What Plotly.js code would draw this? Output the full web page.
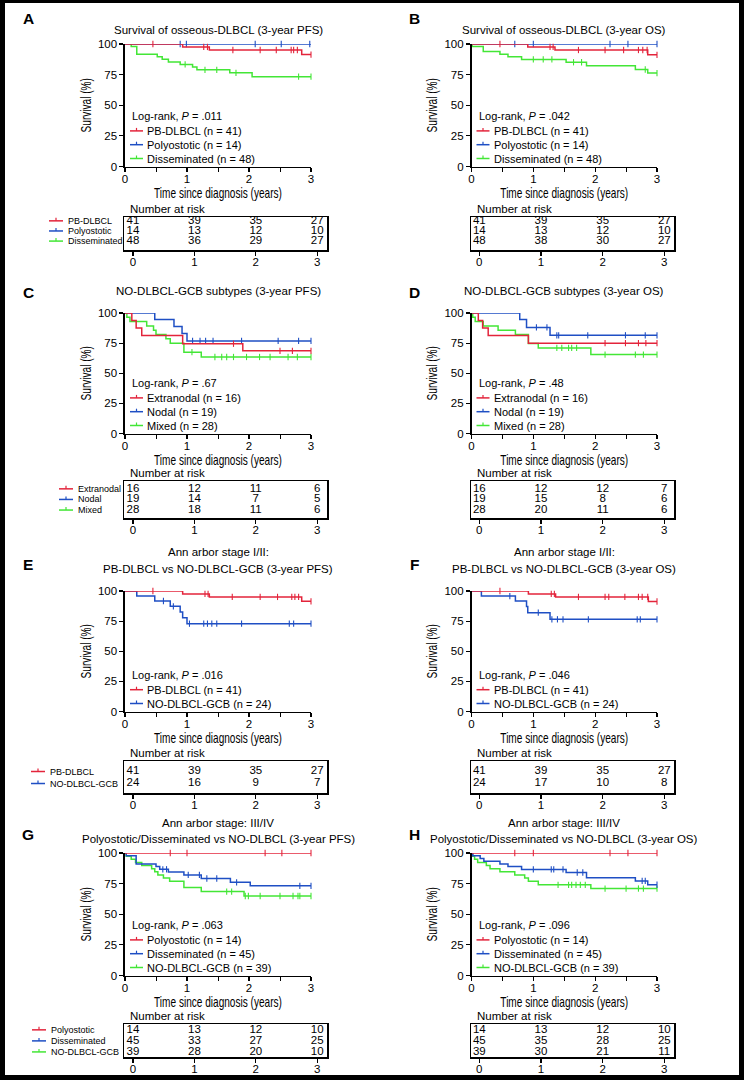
<!DOCTYPE html>
<html><head><meta charset="utf-8">
<script src="https://cdn.plot.ly/plotly-3.0.1.min.js"></script>
<style>html,body{margin:0;padding:0;background:#fff}#g{width:744px;height:1080px}</style>
</head><body><div id="g"></div>
<script>
const RED = '#e3243b', BLUE = '#1f4fc4', GREEN = '#43e636';
const years = [0, 1, 2, 3];

// ---------- Panel A (osseous-DLBCL, PFS) ----------
const aPbT = [0, 0.93, 1.36, 2.85], aPbS = [100, 97.6, 95.1, 91.4];
const aPbC = [0.45, 1.27, 1.33, 1.74, 2.18, 2.44, 2.68, 2.72, 2.78, 3.0];
const aPbRisk = [41, 39, 35, 27];
const aPolyT = [0], aPolyS = [100];
const aPolyC = [0.89, 0.99, 2.10, 2.52, 2.98];
const aPolyRisk = [14, 13, 12, 10];
const aDisT = [0, 0.10, 0.19, 0.52, 0.60, 0.70, 0.89, 1.09, 1.16, 1.69, 2.05];
const aDisS = [100, 97.9, 91.7, 89.6, 87.5, 85.4, 83.3, 81.2, 78.9, 76.5, 73.3];
const aDisC = [0.97, 1.29, 1.48, 1.79, 2.80, 3.0];
const aDisRisk = [48, 36, 29, 27];

// ---------- Panel B (osseous-DLBCL, OS) ----------
const bPbT = [0, 0.91, 1.35, 2.85], bPbS = [100, 97.6, 95.1, 91.2];
const bPbC = [0.46, 1.27, 1.32, 1.73, 2.16, 2.46, 2.70, 2.77, 2.84, 3.0];
const bPbRisk = [41, 39, 35, 27];
const bPolyT = [0], bPolyS = [100];
const bPolyC = [0.70, 1.00, 2.24, 2.53, 3.0];
const bPolyRisk = [14, 13, 12, 10];
const bDisT = [0, 0.01, 0.19, 0.46, 0.59, 0.81, 1.53, 1.86, 2.65, 2.85];
const bDisS = [100, 97.9, 93.8, 91.7, 89.6, 87.4, 85.1, 82.2, 79.2, 76.3];
const bDisC = [1.0, 1.16, 1.30, 1.65, 1.78, 2.81, 3.0];
const bDisRisk = [48, 38, 30, 27];

// ---------- Panel C (NO-DLBCL-GCB subtypes, PFS) ----------
const cExT = [0, 0.11, 0.18, 0.27, 0.93, 1.90], cExS = [100, 93.8, 87.5, 81.3, 74.5, 68.6];
const cExC = [1.75, 2.50, 2.70, 3.0];
const cExRisk = [16, 12, 11, 6];
const cNoT = [0, 0.48, 0.79, 0.92, 1.0], cNoS = [100, 94.7, 88.9, 83.0, 76.8];
const cNoC = [1.09, 1.21, 1.30, 1.42, 1.88, 2.47, 2.80, 3.0];
const cNoRisk = [19, 14, 7, 5];
const cMiT = [0, 0.03, 0.08, 0.35, 0.46, 0.50, 0.66, 0.73, 0.95, 1.23];
const cMiS = [100, 96.4, 92.9, 89.3, 85.7, 82.1, 78.6, 75.0, 67.5, 63.5];
const cMiC = [1.08, 1.45, 1.56, 1.64, 1.75, 1.96, 2.17, 2.34, 2.63, 2.78, 3.0];
const cMiRisk = [28, 18, 11, 6];

// ---------- Panel D (NO-DLBCL-GCB subtypes, OS) ----------
const dExT = [0, 0.11, 0.18, 0.27, 0.92], dExS = [100, 93.8, 87.5, 81.3, 75.0];
const dExC = [2.16, 2.49, 2.70, 2.82, 3.0];
const dExRisk = [16, 12, 12, 7];
const dNoT = [0, 0.78, 0.89, 1.27], dNoS = [100, 94.7, 88.0, 81.5];
const dNoC = [1.05, 1.22, 1.38, 1.41, 1.88, 2.49, 2.81, 3.0];
const dNoRisk = [19, 15, 8, 6];
const dMiT = [0, 0.02, 0.06, 0.19, 0.43, 0.71, 0.92, 1.08, 1.93];
const dMiS = [100, 96.4, 92.9, 89.3, 85.7, 82.1, 74.7, 71.0, 65.5];
const dMiC = [1.38, 1.46, 1.57, 1.62, 1.70, 2.16, 2.65, 2.78, 3.0];
const dMiRisk = [28, 20, 11, 6];

// ---------- Panel E (stage I/II, PFS) ----------
const ePbT = [0, 0.93, 1.36, 2.85], ePbS = [100, 97.6, 95.1, 91.4];
const ePbC = [0.45, 1.29, 1.34, 1.73, 2.18, 2.46, 2.69, 2.74, 2.80, 3.0];
const ePbRisk = [41, 39, 35, 27];
const eNoT = [0, 0.19, 0.48, 0.73, 0.89, 0.93, 1.0];
const eNoS = [100, 95.8, 91.7, 87.3, 82.6, 77.8, 72.9];
const eNoC = [0.62, 0.78, 1.04, 1.27, 1.33, 1.40, 1.48, 1.88, 2.65, 2.72, 3.0];
const eNoRisk = [24, 16, 9, 7];

// ---------- Panel F (stage I/II, OS) ----------
const fPbT = [0, 0.92, 1.36, 2.86], fPbS = [100, 97.6, 95.1, 91.3];
const fPbC = [0.46, 1.29, 1.34, 1.73, 2.16, 2.22, 2.48, 2.70, 2.76, 2.85, 3.0];
const fPbRisk = [41, 39, 35, 27];
const fNoT = [0, 0.16, 0.71, 0.89, 0.91, 1.27];
const fNoS = [100, 95.8, 91.7, 87.1, 82.0, 76.5];
const fNoC = [0.62, 1.08, 1.30, 1.39, 1.48, 1.89, 2.68, 2.73, 3.0];
const fNoRisk = [24, 17, 10, 8];

// ---------- Panel G (stage III/IV, PFS) ----------
const gPolyT = [0], gPolyS = [100];
const gPolyC = [0.73, 1.0, 2.26, 2.53, 3.0];
const gPolyRisk = [14, 13, 12, 10];
const gDisT = [0, 0.02, 0.18, 0.50, 0.56, 0.70, 0.95, 1.23, 1.70, 2.02];
const gDisS = [100, 97.8, 91.1, 88.9, 86.7, 84.4, 82.1, 79.2, 76.1, 73.2];
const gDisC = [0.61, 0.67, 1.02, 1.20, 1.32, 1.48, 1.80, 2.82, 3.0];
const gDisRisk = [45, 33, 27, 25];
const gNoT = [0, 0.02, 0.10, 0.17, 0.27, 0.43, 0.48, 0.53, 0.62, 0.72, 0.95, 1.23, 1.92];
const gNoS = [100, 97.4, 94.9, 92.3, 89.7, 87.2, 84.6, 82.1, 79.5, 76.9, 71.8, 68.5, 64.9];
const gNoC = [1.64, 1.72, 1.94, 1.99, 2.18, 2.50, 2.71, 2.79, 2.82, 3.0];
const gNoRisk = [39, 28, 20, 10];

// ---------- Panel H (stage III/IV, OS) ----------
const hPolyT = [0], hPolyS = [100];
const hPolyC = [0.70, 1.0, 2.24, 2.53, 3.0];
const hPolyRisk = [14, 13, 12, 10];
const hDisT = [0, 0.02, 0.14, 0.20, 0.46, 0.59, 0.81, 1.53, 1.86, 2.65, 2.85];
const hDisS = [100, 97.8, 95.6, 93.3, 91.1, 88.9, 86.6, 84.1, 79.7, 77.2, 74.1];
const hDisC = [1.0, 1.29, 1.33, 1.48, 1.71, 1.80, 2.76, 2.81, 3.0];
const hDisRisk = [45, 35, 28, 25];
const hNoT = [0, 0.02, 0.05, 0.10, 0.24, 0.30, 0.46, 0.70, 0.86, 0.92, 1.08, 1.93];
const hNoS = [100, 97.4, 94.9, 92.3, 89.7, 87.2, 84.6, 82.1, 79.5, 76.9, 74.0, 71.0];
const hNoC = [1.40, 1.57, 1.62, 1.69, 1.76, 1.84, 2.16, 2.50, 2.70, 2.78, 3.0];
const hNoRisk = [39, 30, 21, 11];

const pValues = ['.011', '.042', '.67', '.48', '.016', '.046', '.063', '.096'];

// ---------- fonts / helpers ----------
const FONT = '"Liberation Sans", Arial, Helvetica, sans-serif';
const W = 744, H = 1080;
const X = px => px / W;
const Y = py => 1 - py / H;
function grp(name, color, t, s, c, risk) { return {name, color, t, s, c, risk}; }
function survAt(t, s, c) { let v = s[0]; for (let i = 0; i < t.length; i++) if (t[i] <= c) v = s[i]; return v; }

const panels = [
  {key:'A', col:0, row:0, title:['Survival of osseous-DLBCL (3-year PFS)'], side:66,
   groups:[grp('PB-DLBCL',RED,aPbT,aPbS,aPbC,aPbRisk), grp('Polyostotic',BLUE,aPolyT,aPolyS,aPolyC,aPolyRisk), grp('Disseminated',GREEN,aDisT,aDisS,aDisC,aDisRisk)]},
  {key:'B', col:1, row:0, title:['Survival of osseous-DLBCL (3-year OS)'], side:null,
   groups:[grp('PB-DLBCL',RED,bPbT,bPbS,bPbC,bPbRisk), grp('Polyostotic',BLUE,bPolyT,bPolyS,bPolyC,bPolyRisk), grp('Disseminated',GREEN,bDisT,bDisS,bDisC,bDisRisk)]},
  {key:'C', col:0, row:1, title:['NO-DLBCL-GCB subtypes (3-year PFS)'], side:76,
   groups:[grp('Extranodal',RED,cExT,cExS,cExC,cExRisk), grp('Nodal',BLUE,cNoT,cNoS,cNoC,cNoRisk), grp('Mixed',GREEN,cMiT,cMiS,cMiC,cMiRisk)]},
  {key:'D', col:1, row:1, title:['NO-DLBCL-GCB subtypes (3-year OS)'], side:null,
   groups:[grp('Extranodal',RED,dExT,dExS,dExC,dExRisk), grp('Nodal',BLUE,dNoT,dNoS,dNoC,dNoRisk), grp('Mixed',GREEN,dMiT,dMiS,dMiC,dMiRisk)]},
  {key:'E', col:0, row:2, title:['Ann arbor stage I/II:', 'PB-DLBCL vs NO-DLBCL-GCB (3-year PFS)'], side:48,
   groups:[grp('PB-DLBCL',RED,ePbT,ePbS,ePbC,ePbRisk), grp('NO-DLBCL-GCB',BLUE,eNoT,eNoS,eNoC,eNoRisk)]},
  {key:'F', col:1, row:2, title:['Ann arbor stage I/II:', 'PB-DLBCL vs NO-DLBCL-GCB (3-year OS)'], side:null,
   groups:[grp('PB-DLBCL',RED,fPbT,fPbS,fPbC,fPbRisk), grp('NO-DLBCL-GCB',BLUE,fNoT,fNoS,fNoC,fNoRisk)]},
  {key:'G', col:0, row:3, title:['Ann arbor stage: III/IV', 'Polyostotic/Disseminated vs NO-DLBCL (3-year PFS)'], side:49,
   groups:[grp('Polyostotic',RED,gPolyT,gPolyS,gPolyC,gPolyRisk), grp('Disseminated',BLUE,gDisT,gDisS,gDisC,gDisRisk), grp('NO-DLBCL-GCB',GREEN,gNoT,gNoS,gNoC,gNoRisk)]},
  {key:'H', col:1, row:3, title:['Ann arbor stage: III/IV', 'Polyostotic/Disseminated vs NO-DLBCL (3-year OS)'], side:null,
   groups:[grp('Polyostotic',RED,hPolyT,hPolyS,hPolyC,hPolyRisk), grp('Disseminated',BLUE,hDisT,hDisS,hDisC,hDisRisk), grp('NO-DLBCL-GCB',GREEN,hNoT,hNoS,hNoC,hNoRisk)]}
];

// layout geometry (pixels)
const rowGeom = [
  {plotTop:44, plotBot:166.5, tabTop:217, tabBot:250, tabRange:[2.88,-0.38], titleY:[30], labelY:18},
  {plotTop:313, plotBot:433.5, tabTop:481, tabBot:518, tabRange:[2.75,-0.74], titleY:[291], labelY:292},
  {plotTop:591, plotBot:711.5, tabTop:761, tabBot:793, tabRange:[1.79,-0.875], titleY:[552,569], labelY:564},
  {plotTop:853, plotBot:975.5, tabTop:1024, tabBot:1057, tabRange:[2.46,-0.53], titleY:[823,839], labelY:834}
];
const colGeom = [
  {plotL:125, plotR:311, tabL:124, tabR:327, tabXRange:[-0.147,3.16], labelX:28},
  {plotL:471.5, plotR:657, tabL:471, tabR:674, tabXRange:[-0.135,3.157], labelX:415}
];

const traces = [];
const annotations = [];
const shapes = [];
const layout = {
  width: W, height: H, margin:{l:0,r:0,t:0,b:0,pad:0},
  paper_bgcolor:'#ffffff', plot_bgcolor:'rgba(0,0,0,0)',
  showlegend:false, font:{family:FONT, size:11.5, color:'#000'},
  annotations, shapes
};

function icon(x0, x1, yc, color) {
  shapes.push({type:'line', xref:'paper', yref:'paper', x0:X(x0), x1:X(x1), y0:Y(yc), y1:Y(yc), line:{color, width:1.5}});
  const xm = (x0 + x1) / 2;
  shapes.push({type:'line', xref:'paper', yref:'paper', x0:X(xm), x1:X(xm), y0:Y(yc), y1:Y(yc-3), line:{color, width:1.2}});
}
function txt(text, x, y, opts) {
  annotations.push(Object.assign({text, xref:'paper', yref:'paper', x:X(x), y:Y(y), showarrow:false,
    xanchor:'left', yanchor:'middle', font:{family:FONT, size:11, color:'#000'}}, opts || {}));
}

panels.forEach((p, i) => {
  const rg = rowGeom[p.row], cg = colGeom[p.col];
  const pn = 2 * i + 1, tn = 2 * i + 2;
  const pxId = pn === 1 ? 'x' : 'x' + pn, pyId = pn === 1 ? 'y' : 'y' + pn;
  const txId = 'x' + tn, tyId = 'y' + tn;
  const pxKey = pn === 1 ? 'xaxis' : 'xaxis' + pn, pyKey = pn === 1 ? 'yaxis' : 'yaxis' + pn;

  layout[pxKey] = {
    domain:[X(cg.plotL), X(cg.plotR)], anchor:pyId, range:[0,3], tickmode:'linear', tick0:0, dtick:1,
    ticks:'outside', ticklen:4, tickwidth:1.2, tickcolor:'#000', showline:true, linewidth:1.6, linecolor:'#000',
    showgrid:false, zeroline:false, tickfont:{size:11.5}, fixedrange:true, ticklabelstandoff:-3,
    minor:{tick0:0, dtick:0.5, ticks:'outside', ticklen:4, tickwidth:1, tickcolor:'#000', showgrid:false},
    title:{text:'Time since diagnosis (years)', font:{family:FONT, size:14}, standoff:1}
  };
  layout[pyKey] = {
    domain:[Y(rg.plotBot), Y(rg.plotTop)], anchor:pxId, range:[0,100], tickmode:'array', tickvals:[0,25,50,75,100],
    ticks:'outside', ticklen:4, tickwidth:1.2, tickcolor:'#000', showline:true, linewidth:1.6, linecolor:'#000',
    showgrid:false, zeroline:false, tickfont:{size:11.5}, fixedrange:true,
    title:{text:'Survival (%)', font:{family:FONT, size:14}, standoff:3}
  };
  layout['xaxis' + tn] = {
    domain:[X(cg.tabL), X(cg.tabR)], anchor:tyId, range:cg.tabXRange, tickmode:'array', tickvals:years,
    ticks:'outside', ticklen:4, tickwidth:1.2, tickcolor:'#000', showline:true, mirror:true, linewidth:1.5, linecolor:'#000',
    showgrid:false, zeroline:false, tickfont:{size:11.5}, fixedrange:true, ticklabelstandoff:-3
  };
  layout['yaxis' + tn] = {
    domain:[Y(rg.tabBot), Y(rg.tabTop)], anchor:txId, range:rg.tabRange, showline:true, mirror:true, linewidth:1.5,
    linecolor:'#000', showticklabels:false, ticks:'', showgrid:false, zeroline:false, fixedrange:true
  };

  // curves: draw in reverse so the first group sits on top
  const order = p.groups.map((g, gi) => gi).reverse();
  order.forEach(gi => {
    const g = p.groups[gi];
    traces.push({type:'scatter', mode:'lines', x:g.t.concat([3]), y:g.s.concat([g.s[g.s.length-1]]),
      line:{shape:'hv', color:g.color, width:1.5}, xaxis:pxId, yaxis:pyId, cliponaxis:false, hoverinfo:'skip'});
    traces.push({type:'scatter', mode:'markers', x:g.c, y:g.c.map(c => survAt(g.t, g.s, c)),
      marker:{symbol:'line-ns', size:4.5, color:g.color, line:{color:g.color, width:1.1}},
      xaxis:pxId, yaxis:pyId, cliponaxis:false, hoverinfo:'skip'});
  });
  // number at risk table
  p.groups.forEach((g, gi) => {
    traces.push({type:'scatter', mode:'text', x:years, y:years.map(() => gi), text:g.risk.map(String),
      textposition:'middle center', textfont:{family:FONT, size:11.5, color:'#000'},
      xaxis:txId, yaxis:tyId, cliponaxis:false, hoverinfo:'skip'});
  });

  // panel letter and title
  txt('<b>' + p.key + '</b>', cg.labelX, rg.labelY, {xanchor:'center', font:{family:FONT, size:15.5, color:'#000'}});
  p.title.forEach((t, k) => txt(t, (cg.plotL + cg.plotR) / 2, rg.titleY[k], {xanchor:'center', font:{family:FONT, size:11.5, color:'#000'}}));

  // in-plot legend
  const n = p.groups.length;
  const entryY = j => rg.plotBot - 8 - (n - 1 - j) * 13.8;
  txt('Log-rank, <i>P</i> = ' + pValues[i], cg.plotL + 5, entryY(0) - 14.5, {font:{family:FONT, size:11, color:'#000'}});
  p.groups.forEach((g, j) => {
    icon(cg.plotL + 5, cg.plotL + 18, entryY(j), g.color);
    txt(g.name + ' (n = ' + g.risk[0] + ')', cg.plotL + 20, entryY(j), {font:{family:FONT, size:11, color:'#000'}});
  });

  // number at risk header
  txt('Number at risk', cg.tabL + 4, rg.tabTop - 8, {font:{family:FONT, size:11.5, color:'#000'}});

  // side legend next to table (left column only)
  if (p.side !== null) {
    const span = rg.tabBot - rg.tabTop, r = rg.tabRange;
    p.groups.forEach((g, j) => {
      const yc = rg.tabTop + (j - r[1]) / (r[0] - r[1]) * span;
      icon(p.side - 17, p.side - 3, yc, g.color);
      txt(g.name, p.side, yc, {font:{family:FONT, size:9, color:'#000'}});
    });
  }
});

// black frame
[[0,0,5,H],[W-5,0,W,H],[0,0,W,3],[0,H-5,W,H]].forEach(r => shapes.push({type:'rect', xref:'paper', yref:'paper',
  x0:X(r[0]), x1:X(r[2]), y0:Y(r[1]), y1:Y(r[3]), fillcolor:'#000', line:{width:0}, layer:'above'}));

// condensed axis titles (the original uses a narrow typeface)
function condenseTitles(gd) {
  const S = 0.72;
  gd.querySelectorAll('text').forEach(el => {
    const cls = el.getAttribute('class') || '';
    if (/^[xy]\d*title$/.test(cls)) {
      const x = parseFloat(el.getAttribute('x')) || 0;
      const t = el.getAttribute('transform') || '';
      el.setAttribute('transform', (t + ' translate(' + x + ',0) scale(' + S + ',1) translate(' + (-x) + ',0)').trim());
    }
  });
}
Plotly.newPlot('g', traces, layout, {staticPlot:true, displayModeBar:false}).then(condenseTitles);
</script></body></html>
